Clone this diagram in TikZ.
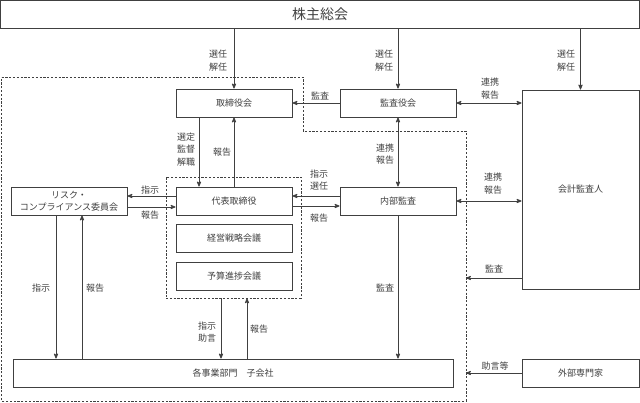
\documentclass[tikz,border=0pt]{standalone}
\usepackage{fontspec}
\setmainfont{Noto Sans CJK JP}
\usetikzlibrary{calc}
\usetikzlibrary{arrows}

\tikzset{
  box/.style={draw=black!75, line width=0.9pt, fill=white, minimum width=116pt, minimum height=28pt, inner sep=1pt, text=black!75, font=\fontsize{9}{12}\selectfont},
  lbl/.style={text=black!75, font=\fontsize{9}{12.5}\selectfont, align=center, inner sep=0pt},
  conn/.style={draw=black!75, line width=0.8pt, >=stealth'},
  waku/.style={draw=black!75, line width=0.7pt, dash pattern=on 2.2pt off 1.6pt},
}

\begin{document}
\begin{tikzpicture}[x=1pt, y=-1pt]
\useasboundingbox (0,0) rectangle (640,403);
\draw[waku] (1.5,77) -- (303,77) -- (303,131) -- (466,131) -- (466,401) -- (1.5,401) -- cycle;
\node[waku, minimum width=135pt, minimum height=121pt] (kaigi) at (233.5,237.5) {};
\coordinate (wakuR) at (466,0);

\node[box, minimum width=639pt, minimum height=28pt, font=\fontsize{14}{16}\selectfont] (soukai) at (320,14) {株主総会};
\node[box] (torishimari) at (234,103) {取締役会};
\node[box] (kansayaku) at (398,103) {監査役会};
\node[box, minimum width=117pt, minimum height=199pt] (kaikei) at (580.5,189.5) {会計監査人};
\node[box] (daihyo) at (234,201) {代表取締役};
\node[box] (senryaku) at (234,238) {経営戦略会議};
\node[box] (yosan) at (234,276) {予算進捗会議};
\node[box, align=center] (risk) at (69,201) {リスク・\\コンプライアンス委員会};
\node[box] (naibu) at (398,201) {内部監査};
\node[box, minimum width=440pt] (jigyo) at (233,373) {各事業部門　子会社};
\node[box, minimum width=117pt] (gaibu) at (580.5,373) {外部専門家};

\draw[conn,->] (soukai.south -| torishimari) -- (torishimari);
\draw[conn,->] (soukai.south -| kansayaku) -- (kansayaku);
\draw[conn,->] (soukai.south -| kaikei) -- (kaikei.north);
\node[lbl] (sennin1) at (218,60.5) {選任\\解任};
\node[lbl] (sennin2) at (384,60.5) {選任\\解任};
\node[lbl] (sennin3) at (566,60.5) {選任\\解任};

\draw[conn,->] (kansayaku) -- (torishimari);
\node[lbl] (kansa1) at (320,96) {監査};
\draw[conn,<->] (kansayaku.east) -- (kansayaku.east -| kaikei.west);
\node[lbl] (renkei1) at (490,88.5) {連携\\報告};

\draw[conn,->] ([xshift=-35pt]torishimari.south) -- ([xshift=-35pt]daihyo.north);
\draw[conn,->] (daihyo) -- (torishimari);
\node[lbl] (sentei) at (186,149.5) {選定\\監督\\解職};
\node[lbl] (houkoku1) at (222,152) {報告};

\draw[conn,->] ([yshift=5pt]daihyo.west) -- ([yshift=5pt]daihyo.west -| risk.east);
\draw[conn,->] ([yshift=-6pt]risk.east) -- ([yshift=-6pt]risk.east -| daihyo.west);
\node[lbl] (shiji1) at (150,190) {指示};
\node[lbl] (houkoku2) at (150,215) {報告};

\draw[conn,->] ([yshift=5pt]naibu.west) -- ([yshift=5pt]naibu.west -| daihyo.east);
\draw[conn,->] ([yshift=-5pt]daihyo.east) -- ([yshift=-5pt]daihyo.east -| naibu.west);
\node[lbl] (shiji2) at (319,180) {指示\\選任};
\node[lbl] (houkoku3) at (319,218) {報告};

\draw[conn,<->] (kansayaku) -- (naibu);
\node[lbl] (renkei2) at (385,154) {連携\\報告};
\draw[conn,<->] (naibu.east) -- (naibu.east -| kaikei.west);
\node[lbl] (renkei3) at (493,183.5) {連携\\報告};

\coordinate (kansaPt) at (466,278);
\draw[conn,->] (kaikei.west |- kansaPt) -- (kansaPt);
\node[lbl] (kansa2) at (494,269) {監査};
\draw[conn,->] (gaibu) -- (gaibu -| wakuR);
\node[lbl] (jogen) at (495,366) {助言等};

\draw[conn,->] (naibu) -- (naibu |- jigyo.north);
\node[lbl] (kansa3) at (385,288) {監査};

\draw[conn,->] ([xshift=-13pt]risk.south) -- ([xshift=-13pt]risk.south |- jigyo.north);
\draw[conn,->] ([xshift=13pt]risk.south |- jigyo.north) -- ([xshift=13pt]risk.south);
\node[lbl] (shiji3) at (41,288) {指示};
\node[lbl] (houkoku4) at (95,288) {報告};

\draw[conn,->] ([xshift=-12.5pt]kaigi.south) -- ([xshift=-12.5pt]kaigi.south |- jigyo.north);
\draw[conn,->] ([xshift=13.5pt]kaigi.south |- jigyo.north) -- ([xshift=13.5pt]kaigi.south);
\node[lbl] (shiji4) at (207,332) {指示\\助言};
\node[lbl] (houkoku5) at (259,329) {報告};
\end{tikzpicture}
\end{document}
